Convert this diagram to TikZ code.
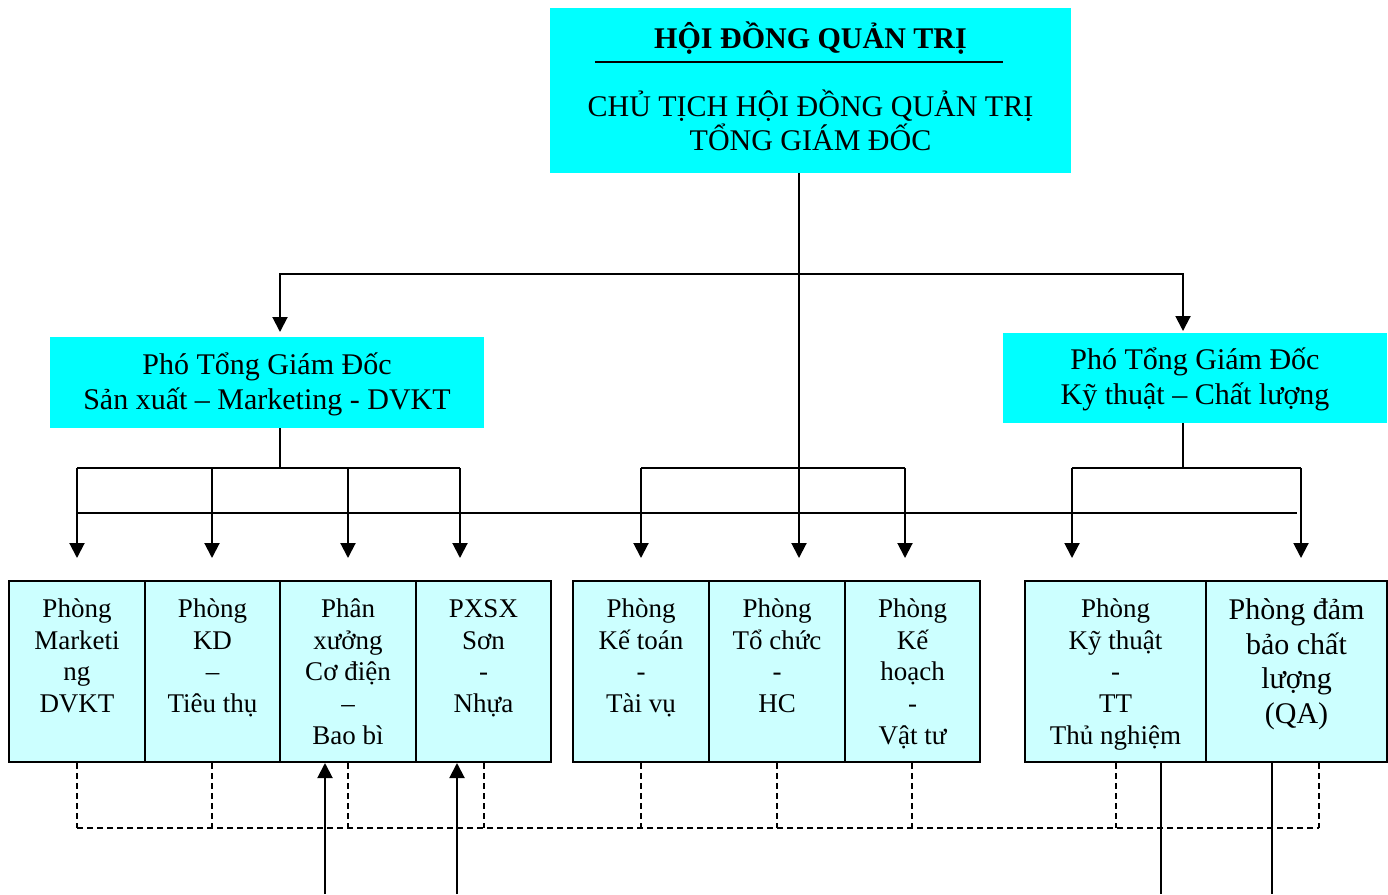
\documentclass[tikz,border=0pt]{standalone}
\usepackage{fontspec}
\setmainfont{Liberation Serif}
\usetikzlibrary{arrows.meta,calc}
\definecolor{headcyan}{HTML}{00FFFF}
\definecolor{unitcyan}{HTML}{CCFFFF}
\newcommand\unitfont{\fontsize{27}{31.7}\selectfont}
\newcommand\bigfont{\fontsize{30}{35}\selectfont}
\newcommand\twolines[2]{\raisebox{-2pt}[\height][\depth]{\begin{tabular}{@{}c@{}}#1\\#2\end{tabular}}}
\tikzset{
  ln/.style={line width=2pt},
  arr/.style={ln,-{Triangle[width=15pt,length=15pt]}},
  dsh/.style={line width=2pt,dash pattern=on 6pt off 4pt},
  unit/.style={draw,line width=2pt,fill=unitcyan,inner sep=0pt},
  head/.style={fill=headcyan,inner sep=0pt,align=center},
}
\begin{document}
\begin{tikzpicture}[x=1pt,y=-1pt]
\useasboundingbox (0,0) rectangle (1388,894);
% top box
\node[head] (top) at (810.5,90.5) {\parbox[c][165pt][t]{521pt}{\centering\fontsize{30}{34}\selectfont
  \rule{0pt}{40pt}\textbf{HỘI ĐỒNG QUẢN TRỊ}\\[34pt]
  CHỦ TỊCH HỘI ĐỒNG QUẢN TRỊ\\
  TỔNG GIÁM ĐỐC}};
\draw[ln] ($(top.north west)+(45,54)$) -- ($(top.north west)+(453,54)$);
% vice directors
\node[head,minimum width=434pt,minimum height=91pt,font=\bigfont] (vpl) at (267,382.5)
  {\twolines{Phó Tổng Giám Đốc}{Sản xuất – Marketing - DVKT}};
\node[head,minimum width=384pt,minimum height=90pt,font=\bigfont] (vpr) at (1195,378)
  {\twolines{Phó Tổng Giám Đốc}{Kỹ thuật – Chất lượng}};
% units
\node[unit] (b1) at (77,671.5)   {\parbox[c][181pt][t]{136pt}{\centering\unitfont\rule{0pt}{36.5pt}Phòng\\Marketi\\ng\\DVKT}};
\node[unit] (b2) at (212.5,671.5){\parbox[c][181pt][t]{135pt}{\centering\unitfont\rule{0pt}{36.5pt}Phòng\\KD\\–\\Tiêu thụ}};
\node[unit] (b3) at (348,671.5)  {\parbox[c][181pt][t]{136pt}{\centering\unitfont\rule{0pt}{36.5pt}Phân\\xưởng\\Cơ điện\\–\\Bao bì}};
\node[unit] (b4) at (483.5,671.5){\parbox[c][181pt][t]{135pt}{\centering\unitfont\rule{0pt}{36.5pt}PXSX\\Sơn\\-\\Nhựa}};
\node[unit] (b5) at (641,671.5)  {\parbox[c][181pt][t]{136pt}{\centering\unitfont\rule{0pt}{36.5pt}Phòng\\Kế toán\\-\\Tài vụ}};
\node[unit] (b6) at (777,671.5)  {\parbox[c][181pt][t]{136pt}{\centering\unitfont\rule{0pt}{36.5pt}Phòng\\Tổ chức\\-\\HC}};
\node[unit] (b7) at (912.5,671.5){\parbox[c][181pt][t]{135pt}{\centering\unitfont\rule{0pt}{36.5pt}Phòng\\Kế\\hoạch\\-\\Vật tư}};
\node[unit] (b8) at (1115.5,671.5){\parbox[c][181pt][t]{181pt}{\centering\unitfont\rule{0pt}{36.5pt}Phòng\\Kỹ thuật\\-\\TT\\Thủ nghiệm}};
\node[unit] (b9) at (1296.5,671.5){\parbox[c][181pt][t]{181pt}{\centering\fontsize{30}{34.7}\selectfont\rule{0pt}{38.5pt}Phòng đảm\\bảo chất\\lượng\\(QA)}};
% junction coordinates
\coordinate (j0) at (799,274);
\coordinate (tl) at (280,332);
\coordinate (tr) at (1183,331);
\coordinate (jl) at (280,468);
\coordinate (jr) at (1183,468);
\foreach \n/\x in {1/77,2/212,3/348,4/460,5/641,6/799,7/905,8/1072,9/1301}
  \coordinate (t\n) at (\x,558);
% top level connectors
\draw[arr] (top.south -| j0) -- (t6);
\draw[arr] (j0) -| (tl);
\draw[arr] (j0) -| (tr);
% left group
\draw[ln] (vpl.south -| jl) -- (jl);
\draw[ln] (t1 |- jl) -- (t4 |- jl);
\foreach \n in {1,2,3,4} \draw[arr] (t\n |- jl) -- (t\n);
% middle group
\draw[ln] (t5 |- jl) -- (t7 |- jl);
\draw[arr] (t5 |- jl) -- (t5);
\draw[arr] (t7 |- jl) -- (t7);
% right group
\draw[ln] (vpr.south -| jr) -- (jr);
\draw[ln] (t8 |- jr) -- (t9 |- jr);
\draw[arr] (t8 |- jr) -- (t8);
\draw[arr] (t9 |- jr) -- (t9);
% long horizontal line
\draw[ln] (77,513) -- (1297,513);
% dashed links
\coordinate (dl) at (77,828);
\coordinate (dr) at (1319,828);
\draw[dsh] (dl) -- (dr);
\foreach \b/\x in {b1/77,b2/212,b3/348,b4/484,b5/641,b6/777,b7/912,b8/1116,b9/1319}
  \draw[dsh] (\b.south -| \x,0) -- (\x,828);
% bottom lines
\coordinate (u1) at (325,894);
\coordinate (u2) at (457,894);
\coordinate (u3) at (1161,894);
\coordinate (u4) at (1272,894);
\draw[arr] (u1) -- (u1 |- b3.south);
\draw[arr] (u2) -- (u2 |- b4.south);
\draw[ln] (u3 |- b8.south) -- (u3);
\draw[ln] (u4 |- b9.south) -- (u4);
\end{tikzpicture}
\end{document}
